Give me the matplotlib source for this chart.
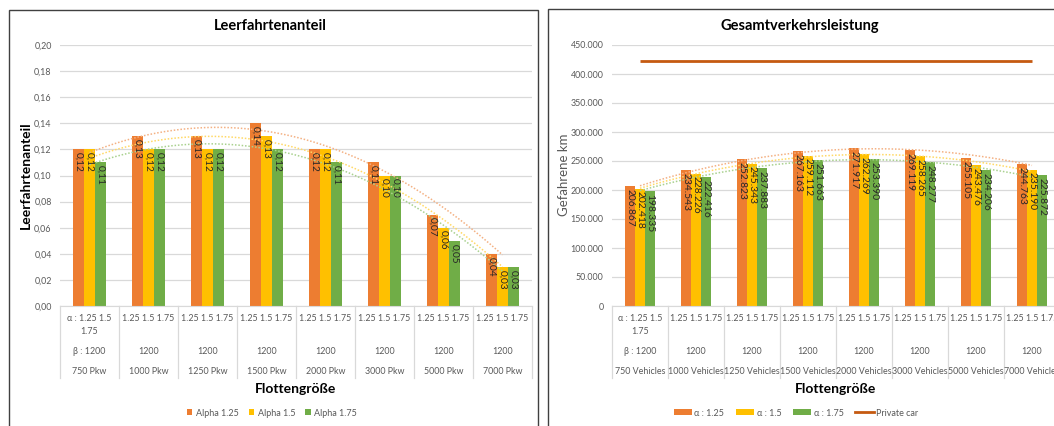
import numpy as np
import matplotlib
matplotlib.use("Agg")
import matplotlib.pyplot as plt
from matplotlib import transforms
from matplotlib.patches import Rectangle, Patch
from matplotlib.lines import Line2D

plt.rcParams['font.family'] = ['Lato', 'DejaVu Sans']

# ---------------- data ----------------
fleet_pkw = ["750 Pkw", "1000 Pkw", "1250 Pkw", "1500 Pkw", "2000 Pkw", "3000 Pkw", "5000 Pkw", "7000 Pkw"]
fleet_veh = ["750 Vehicles", "1000 Vehicles", "1250 Vehicles", "1500 Vehicles", "2000 Vehicles",
             "3000 Vehicles", "5000 Vehicles", "7000 Vehicles"]
alpha_row = ["α : 1.25 1.5\n1.75"] + ["1.25 1.5 1.75"] * 7
beta_row = ["β : 1200"] + ["1200"] * 7

empty_a125 = [0.12, 0.13, 0.13, 0.14, 0.12, 0.11, 0.07, 0.04]
empty_a150 = [0.12, 0.12, 0.12, 0.13, 0.12, 0.10, 0.06, 0.03]
empty_a175 = [0.11, 0.12, 0.12, 0.12, 0.11, 0.10, 0.05, 0.03]

km_a125 = [206867, 234543, 252823, 267163, 271917, 269119, 255105, 244763]
km_a150 = [202418, 228226, 245343, 259112, 262269, 258265, 243476, 235190]
km_a175 = [198335, 222416, 237883, 251663, 253390, 248277, 234206, 225872]
private_car = 422000

left_series = ["Alpha 1.25", "Alpha 1.5", "Alpha 1.75"]
right_series = ["α : 1.25", "α : 1.5", "α : 1.75"]

colors = ["#ED7D31", "#FFC000", "#70AD47"]
trend_colors = ["#F4B183", "#FFD966", "#A9D18E"]
car_color = "#C55A11"
grid_c = "#D9D9D9"
txt_c = "#595959"

W, H = 1054, 426
fig = plt.figure(figsize=(W / 100, H / 100), dpi=100)


def fx(px):
    return px / W


def fy(py):
    return 1 - py / H


# panel borders
fig.add_artist(Rectangle((fx(9), fy(430)), fx(529), fy(10) - fy(430), transform=fig.transFigure,
                         fill=False, edgecolor="#404040", lw=1.0))
fig.add_artist(Rectangle((fx(548), fy(430)), fx(520), fy(9) - fy(430), transform=fig.transFigure,
                         fill=False, edgecolor="#404040", lw=1.0))

CAT_FS = 6.4
TICK_FS = 6.4


def make_panel(x0, x1, series, names, ylim, yticks, fmt_tick, fmt_lab, row_labels, ylabel,
               ylabel_bold, ylabel_x, bw, label_fs):
    ax = fig.add_axes([fx(x0), fy(306), fx(x1 - x0), fy(45) - fy(306)])
    n = len(series[0])
    x = np.arange(n)
    for i, (vals, c) in enumerate(zip(series, colors)):
        pos = x + (i - 1) * bw
        ax.bar(pos, vals, width=bw, color=c, label=names[i], zorder=2)
        for xp, v in zip(pos, vals):
            ax.annotate(fmt_lab(v), (xp, v), xytext=(0, -2), textcoords="offset points",
                        rotation=270, ha="center", va="top", fontsize=label_fs, color="#262626",
                        zorder=4)
    # polynomial (order 2) trend lines
    xs = np.linspace(0, n - 1, 200)
    for vals, tc in zip(series, trend_colors):
        coef = np.polyfit(x + 1, vals, 2)
        ax.plot(xs, np.polyval(coef, xs + 1), ls=(0, (1, 1.2)), color=tc, lw=1.1, zorder=3)
    ax.set_xlim(-0.5, n - 0.5)
    ax.set_ylim(*ylim)
    ax.set_yticks(yticks)
    ax.set_yticklabels([fmt_tick(t) for t in yticks], fontsize=TICK_FS, color=txt_c)
    ax.tick_params(axis="y", length=0, pad=6)
    ax.set_xticks([])
    for s in ["left", "right", "top"]:
        ax.spines[s].set_visible(False)
    ax.spines["bottom"].set_color(grid_c)
    ax.yaxis.grid(True, color=grid_c, lw=0.9)
    ax.set_axisbelow(True)

    tr = transforms.blended_transform_factory(ax.transData, fig.transFigure)
    for i in range(n + 1):
        ax.add_line(Line2D([i - 0.5, i - 0.5], [fy(306), fy(378)], transform=tr, color=grid_c,
                           lw=0.9, clip_on=False))
    for i in range(n):
        ax.text(i, fy(314), row_labels[0][i], transform=tr, ha="center", va="top", fontsize=CAT_FS,
                color=txt_c, linespacing=1.5)
        ax.text(i, fy(352), row_labels[1][i], transform=tr, ha="center", va="center",
                fontsize=CAT_FS, color=txt_c)
        ax.text(i, fy(371), row_labels[2][i], transform=tr, ha="center", va="center",
                fontsize=CAT_FS, color=txt_c)
    ax.text(0.5 * (n - 1), fy(389), "Flottengröße", transform=tr, ha="center", va="center",
            fontsize=10, fontweight="bold", color="#000000")
    fig.text(fx(ylabel_x), fy(175), ylabel, rotation=90, ha="center", va="center",
             fontsize=10 if ylabel_bold else 9.5, fontweight="bold" if ylabel_bold else "normal",
             color="#000000" if ylabel_bold else txt_c)
    return ax


axL = make_panel(60, 532, [empty_a125, empty_a150, empty_a175], left_series, (0, 0.2),
                 np.round(np.arange(0, 0.201, 0.02), 2),
                 lambda t: f"{t:.2f}".replace(".", ","),
                 lambda v: f"{v:.2f}".replace(".", ","),
                 [alpha_row, beta_row, fleet_pkw], "Leerfahrtenanteil",
                 True, 26, 0.19, 7.3)

axR = make_panel(612, 1060, [km_a125, km_a150, km_a175], right_series, (0, 450000),
                 np.arange(0, 450001, 50000),
                 lambda t: "0" if t == 0 else f"{int(t):,}".replace(",", "."),
                 lambda v: f"{int(v):,}".replace(",", "."),
                 [alpha_row, beta_row, fleet_veh], "Gefahrene km",
                 False, 564, 0.175, 7.4)
axR.plot(np.arange(len(km_a125)), [private_car] * len(km_a125), color=car_color, lw=2.0,
         zorder=3, solid_capstyle="butt")

fig.text(fx(270), fy(26), "Leerfahrtenanteil", ha="center", va="center", fontsize=10.5,
         fontweight="bold")
fig.text(fx(800), fy(26), "Gesamtverkehrsleistung", ha="center", va="center", fontsize=10.5,
         fontweight="bold")

# legends
hL = [Patch(facecolor=c, edgecolor="none") for c in colors]
fig.legend(hL, left_series, loc="center", bbox_to_anchor=(fx(272), fy(413)), ncol=3,
           frameon=False, fontsize=6.5, handlelength=0.6, handleheight=0.6, handletextpad=0.4,
           columnspacing=1.1, labelcolor=txt_c)
hR = [Patch(facecolor=c, edgecolor="none") for c in colors] + [Line2D([], [], color=car_color, lw=2)]
fig.legend(hR, right_series + ["Private car"], loc="center", bbox_to_anchor=(fx(796), fy(413)),
           ncol=4, frameon=False, fontsize=6.5, handlelength=2.0, handleheight=0.6,
           handletextpad=0.3, columnspacing=1.3, labelcolor=txt_c)

fig.savefig("out.png", dpi=100)
